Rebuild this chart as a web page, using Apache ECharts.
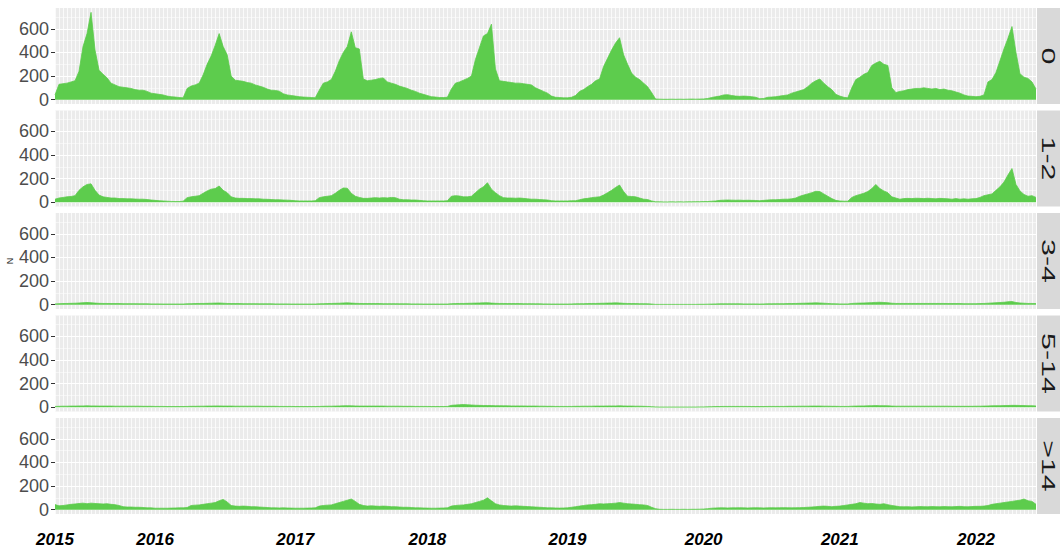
<!DOCTYPE html>
<html><head><meta charset="utf-8">
<script src="https://cdn.jsdelivr.net/npm/echarts@6/dist/echarts.min.js"></script>
<style>html,body{margin:0;padding:0;background:#fff}#c{width:1060px;height:547px}</style>
</head><body><div id="c"></div>
<script>
// ---- data (one value every ~10.6 days) ----
const panelNames = ['0', '1-2', '3-4', '5-14', '>14'];
const yearTicks = [[0, '2015'], [25, '2016'], [60, '2017'], [93, '2018'], [128, '2019'], [162, '2020'], [196, '2021'], [230, '2022']];
const yTicks = [0, 200, 400, 600];
const yMinor = [100, 300, 500, 700];

const age0 = [
40,130,135,140,150,160,240,450,560,740,
420,250,215,185,140,125,110,105,100,95,
85,80,80,70,55,50,45,40,30,25,
22,18,15,95,115,125,140,210,300,370,
460,560,450,380,200,165,160,155,145,140,
125,115,105,90,80,78,72,50,40,35,
30,25,22,20,18,16,80,140,150,170,
240,330,400,450,575,440,430,175,160,165,
170,180,184,150,140,130,115,105,95,80,
70,55,45,35,25,22,18,18,20,90,
140,150,165,180,200,340,440,540,560,640,
260,160,155,150,145,140,140,135,130,125,
100,85,70,55,30,20,18,15,15,20,
35,70,85,110,130,160,175,280,350,420,
480,525,380,300,225,190,170,140,110,60,
5,4,3,3,4,3,4,3,4,5,
4,5,6,10,18,25,30,40,42,35,
30,28,30,28,25,20,8,10,20,22,
25,30,35,40,55,65,75,85,110,140,
160,175,140,110,85,45,30,20,15,100,
170,190,215,230,290,310,325,300,290,100,
60,70,75,85,90,95,95,100,95,90,
95,85,90,80,75,65,55,40,30,28,
25,28,40,150,170,230,330,430,520,620,
400,220,190,180,150,90];

const age1to2 = [
25,35,40,45,48,55,100,130,150,155,
100,60,45,40,35,35,30,30,28,28,
26,25,25,22,18,15,12,10,8,6,
5,5,8,38,45,50,55,75,95,110,
115,137,100,80,45,35,32,32,30,30,
28,28,25,24,22,20,20,18,17,15,
12,10,10,10,10,12,38,45,50,55,
75,100,120,118,75,50,40,32,32,35,
38,35,38,36,40,38,25,20,20,18,
18,15,12,10,10,10,10,10,12,50,
55,52,45,45,50,80,110,130,165,110,
80,55,38,35,35,33,35,32,28,25,
25,22,20,18,12,10,10,10,10,12,
12,20,28,32,38,42,45,60,80,100,
125,145,90,50,48,45,35,25,22,10,
3,3,2,2,3,2,3,2,3,3,
4,4,5,5,8,10,15,17,18,17,
16,17,15,16,15,14,12,15,18,20,
20,22,25,25,28,35,50,60,70,80,
92,90,70,50,30,15,10,8,8,40,
55,65,75,90,115,150,115,95,80,45,
35,25,30,32,30,33,32,30,33,30,
28,32,30,28,25,30,25,28,25,28,
30,40,55,62,70,100,130,170,230,285,
150,95,65,50,55,40];

const age3to4 = [
6,8,9,10,11,12,14,16,18,16,
13,11,10,10,9,9,9,8,8,8,
8,7,7,7,6,6,6,5,5,5,
5,5,5,7,8,9,10,10,11,12,
13,14,12,10,9,9,9,8,8,8,
8,7,7,7,7,6,6,6,6,5,
5,5,5,5,5,5,7,8,9,10,
11,12,14,15,13,11,10,9,9,9,
9,9,8,8,8,8,7,7,7,6,
6,6,5,5,5,5,5,5,5,8,
9,10,10,11,12,13,14,15,16,13,
11,10,10,9,9,9,9,8,8,8,
7,7,6,6,5,5,5,5,5,6,
7,8,8,9,10,10,11,12,13,14,
15,14,11,10,9,9,8,8,7,5,
2,2,2,2,2,2,2,2,2,2,
2,3,3,4,5,6,7,7,7,7,
7,7,6,6,6,6,5,6,7,7,
8,8,8,9,9,10,11,12,13,14,
15,14,12,10,8,7,6,6,6,10,
12,13,14,15,17,19,20,18,16,12,
10,10,10,10,10,10,10,10,10,10,
10,10,10,9,9,9,9,8,8,8,
8,9,10,12,14,16,18,20,24,26,
18,14,12,10,10,9];

const age5to14 = [
6,7,8,8,9,9,10,10,11,10,
10,9,9,9,9,8,8,8,8,8,
8,8,7,7,7,6,6,6,5,5,
5,5,5,6,7,7,8,8,9,9,
10,10,9,9,9,8,8,8,8,8,
8,8,7,7,7,7,6,6,6,6,
5,5,5,5,5,5,6,7,8,8,
9,10,11,12,11,10,9,9,9,9,
9,9,9,8,8,8,8,7,7,7,
6,6,6,6,5,5,5,5,6,15,
18,20,22,20,18,16,15,14,14,13,
12,12,11,11,10,10,10,10,9,9,
9,8,8,7,7,6,6,6,6,6,
7,7,8,8,8,9,9,9,10,10,
10,11,10,9,9,8,8,7,6,4,
2,1,1,1,1,1,1,1,1,1,
1,2,2,3,4,5,5,6,6,6,
6,6,6,6,5,5,5,5,6,6,
6,6,6,7,7,7,8,8,8,9,
9,9,8,8,7,7,6,6,6,8,
9,10,10,11,12,13,12,12,11,9,
8,8,8,8,8,8,8,8,8,8,
8,8,8,8,7,7,7,7,7,7,
8,8,9,10,11,12,12,13,14,15,
15,14,13,12,12,10];

const ageOver14 = [
43,32,35,40,45,48,52,55,50,55,
52,50,48,50,45,42,35,25,22,22,
20,20,18,15,15,12,12,12,12,13,
14,15,15,18,35,38,40,45,50,55,
60,75,87,65,35,30,28,30,28,25,
25,22,20,18,15,15,14,15,14,13,
12,12,12,13,14,15,30,35,38,40,
50,60,70,80,90,70,45,35,30,32,
30,28,30,28,25,25,22,20,20,18,
15,15,14,13,12,12,13,14,15,30,
35,38,40,45,50,60,70,80,100,75,
50,40,35,32,30,32,30,28,26,24,
22,20,18,15,15,14,13,14,15,20,
25,30,35,40,42,45,50,48,50,52,
55,60,55,50,48,45,42,40,35,20,
8,3,2,2,3,2,2,3,2,3,
3,4,5,8,12,14,15,15,14,15,
15,16,15,14,15,16,15,14,15,16,
15,16,17,16,15,16,17,18,20,22,
25,28,30,28,25,28,30,35,40,45,
50,60,55,50,52,48,45,50,42,35,
30,25,24,25,23,24,26,25,24,26,
25,24,26,25,24,26,28,25,24,26,
28,28,30,35,45,50,55,60,65,70,
75,80,90,75,70,45];

const categories = age0.map((_, i) => 'p' + i);

// ---- chart ----
const GREEN = '#5DCC4D';
const chart = echarts.init(document.getElementById('c'), null, { renderer: 'svg' });
const tops = [8, 110.5, 213, 315.5, 418];
const H = 96;
const seriesData = [age0, age1to2, age3to4, age5to14, ageOver14];
const tickMap = {};
yearTicks.forEach(([i, l]) => { tickMap[i] = l; });

const grids = [], xAxes = [], yAxes = [], series = [], graphics = [];
seriesData.forEach((d, k) => {
  grids.push({ left: 55, right: 24, top: tops[k], height: H, show: true, backgroundColor: '#EBEBEB', borderWidth: 0,
    containLabel: false, outerBoundsMode: 'none' });
  xAxes.push({
    type: 'category', gridIndex: k, data: categories, boundaryGap: false,
    axisLine: { show: false }, axisTick: { show: false },
    axisLabel: {
      show: k === 4, interval: (i) => tickMap[i] !== undefined, formatter: (v, i) => tickMap[i] || '',
      margin: 18, fontSize: 17, lineHeight: 14, fontWeight: 'bold', fontStyle: 'italic', color: '#000',
      fontFamily: 'Liberation Sans', showMinLabel: true
    },
    splitLine: { show: true, interval: 0, lineStyle: { color: '#FFFFFF', width: 1, opacity: 0.75 } }
  });
  yAxes.push({
    type: 'value', gridIndex: k, min: -37, max: 777,
    axisLine: { show: false },
    axisTick: { show: true, length: 4, customValues: yTicks, lineStyle: { color: '#333333' } },
    axisLabel: { customValues: yTicks, fontSize: 18, color: '#4D4D4D', margin: 6, fontFamily: 'Liberation Sans' },
    splitLine: { show: false },
    name: k === 2 ? 'N' : '', nameLocation: 'middle', nameRotate: 90, nameGap: 41, nameMoveOverlap: false,
    nameTextStyle: { fontSize: 9, color: '#1A1A1A', fontFamily: 'Liberation Sans' }
  });
  series.push({
    type: 'line', xAxisIndex: k, yAxisIndex: k, data: [], silent: true, z: 1, animation: false,
    markLine: {
      z: 1, silent: true, symbol: 'none', label: { show: false }, animation: false,
      data: [
        ...yTicks.map(v => ({ yAxis: v, lineStyle: { color: '#FFFFFF', width: 1.1, type: 'solid' } })),
        ...yMinor.map(v => ({ yAxis: v, lineStyle: { color: '#FFFFFF', width: 0.5, type: 'solid' } }))
      ]
    }
  });
  series.push({
    type: 'line', xAxisIndex: k, yAxisIndex: k, data: d, symbol: 'none', z: 8, animation: false,
    lineStyle: { color: GREEN, width: 0.8 }, areaStyle: { color: GREEN, opacity: 1 }
  });
  graphics.push({ type: 'rect', left: 1037, top: tops[k], shape: { width: 30, height: H }, style: { fill: '#D9D9D9' }, z: 0 });
  graphics.push({
    type: 'text', x: 1049, y: tops[k] + H / 2, rotation: -Math.PI / 2, scaleX: 1.6,
    style: { text: panelNames[k], fontSize: 19, fontFamily: 'Liberation Sans', fill: '#1A1A1A',
      align: 'center', verticalAlign: 'middle', textAlign: 'center', textVerticalAlign: 'middle' },
    z: 10
  });
});

chart.setOption({
  animation: false,
  grid: grids, xAxis: xAxes, yAxis: yAxes, series: series, graphic: graphics
});
</script></body></html>
